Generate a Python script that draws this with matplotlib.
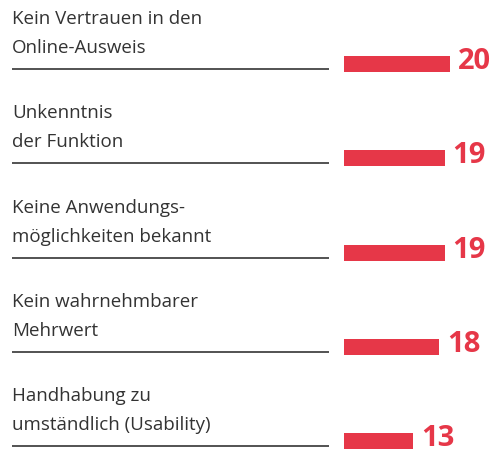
import matplotlib
matplotlib.use("Agg")
import matplotlib.pyplot as plt
import matplotlib.transforms as mtransforms

labels = [
    ["Kein Vertrauen in den", "Online-Ausweis"],
    ["Unkenntnis", "der Funktion"],
    ["Keine Anwendungs-", "möglichkeiten bekannt"],
    ["Kein wahrnehmbarer", "Mehrwert"],
    ["Handhabung zu", "umständlich (Usability)"],
]
values = [20, 19, 19, 18, 13]

RED = "#e63748"
TEXT = "#333333"
W, H = 493, 450
bar_left = 344      # px where value 0 sits
px_per_unit = 5.3
first_center = 64
step = 94.3

fig = plt.figure(figsize=(W / 100, H / 100), dpi=100)
ax = fig.add_axes([0, 0, 1, 1])
ax.set_xlim(-bar_left / px_per_unit, (W - bar_left) / px_per_unit)
ax.set_ylim((H - first_center) / step, -first_center / step)
ax.axis("off")

pos = list(range(len(values)))
ax.barh(pos, values, height=16 / step, color=RED, left=0)

blend = mtransforms.blended_transform_factory(ax.transAxes, ax.transData)
line1 = mtransforms.offset_copy(blend, fig=fig, x=0, y=40, units="dots")
line2 = mtransforms.offset_copy(blend, fig=fig, x=0, y=11, units="dots")
under = mtransforms.offset_copy(blend, fig=fig, x=0, y=-5, units="dots")
num_tr = mtransforms.offset_copy(ax.transData, fig=fig, x=8, y=-5, units="dots")

for i, (lab, v) in enumerate(zip(labels, values)):
    ax.text(12 / W, i, lab[0], transform=line1, fontsize=13.5, color=TEXT,
            family="Open Sans", va="baseline", ha="left")
    ax.text(12 / W, i, lab[1], transform=line2, fontsize=13.5, color=TEXT,
            family="Open Sans", va="baseline", ha="left")
    ax.plot([12 / W, 329 / W], [i, i], transform=under, color="#444444", lw=1.3,
            solid_capstyle="butt")
    ax.text(v, i, str(v), transform=num_tr, fontsize=21, fontweight="bold",
            color=RED, family="Open Sans", va="baseline", ha="left")

fig.savefig("out.png", dpi=100)
